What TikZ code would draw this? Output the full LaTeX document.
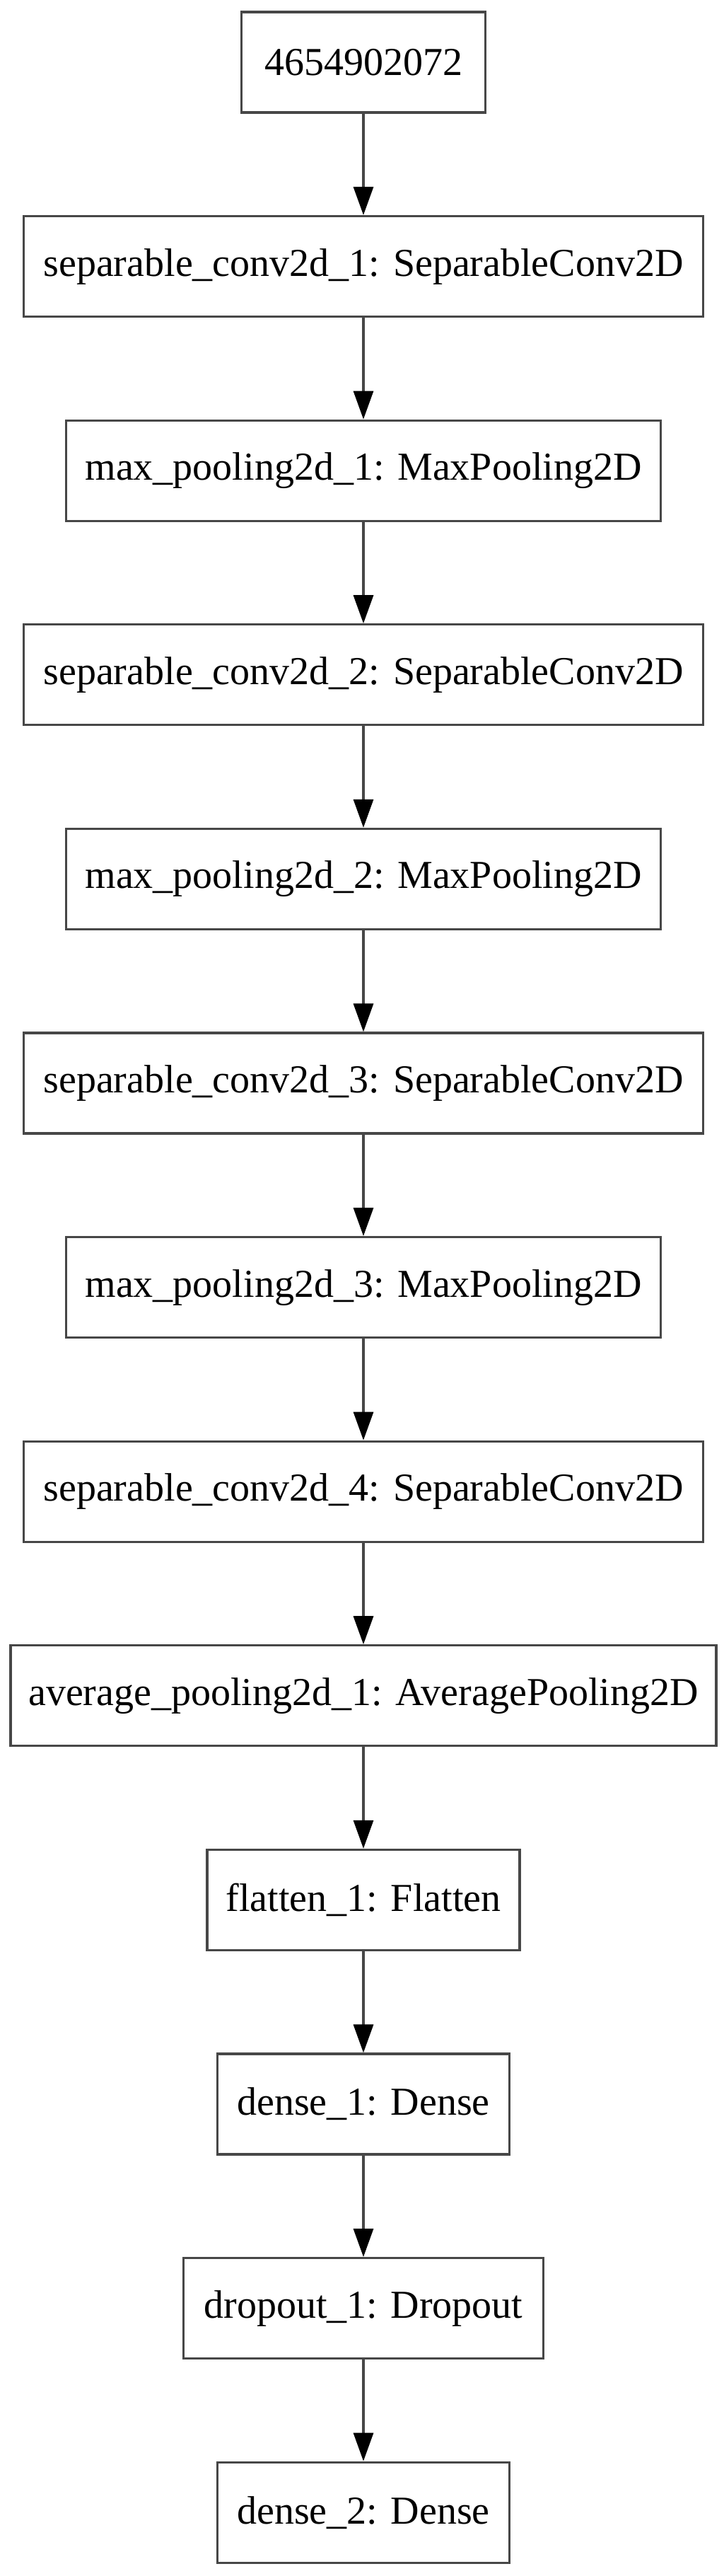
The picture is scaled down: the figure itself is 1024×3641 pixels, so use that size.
\documentclass[tikz,border=0pt]{standalone}
\usepackage{fontspec}
\setmainfont{Liberation Serif}
\usetikzlibrary{arrows.meta}
\begin{document}
\begin{tikzpicture}[x=0.25pt,y=-0.25pt,
  layer/.style={draw=black!72,line width=0.8pt,fill=white,inner sep=0pt,
    minimum height=35.5pt,font=\fontsize{14pt}{16pt}\selectfont,text=black},
  flow/.style={draw=black!72,line width=0.8pt,
    -{Triangle[length=10pt,width=7pt,color=black,fill=black]}}]
\useasboundingbox[fill=white] (0,0) rectangle (1024,3641);
\node[layer,minimum width=86.25pt]  (n0)  at (514,88)     {4654902072};
\node[layer,minimum width=240.25pt] (n1)  at (514,376.6)  {separable\_conv2d\_1: SeparableConv2D};
\node[layer,minimum width=210.25pt] (n2)  at (514,665.2)  {max\_pooling2d\_1: MaxPooling2D};
\node[layer,minimum width=240.25pt] (n3)  at (514,953.8)  {separable\_conv2d\_2: SeparableConv2D};
\node[layer,minimum width=210.25pt] (n4)  at (514,1242.4) {max\_pooling2d\_2: MaxPooling2D};
\node[layer,minimum width=240.25pt] (n5)  at (514,1531)   {separable\_conv2d\_3: SeparableConv2D};
\node[layer,minimum width=210.25pt] (n6)  at (514,1819.6) {max\_pooling2d\_3: MaxPooling2D};
\node[layer,minimum width=240.25pt] (n7)  at (514,2108.2) {separable\_conv2d\_4: SeparableConv2D};
\node[layer,minimum width=249.5pt]  (n8)  at (514,2396.8) {average\_pooling2d\_1: AveragePooling2D};
\node[layer,minimum width=110.5pt]  (n9)  at (514,2685.4) {flatten\_1: Flatten};
\node[layer,minimum width=103.25pt] (n10) at (514,2974)   {dense\_1: Dense};
\node[layer,minimum width=127.25pt] (n11) at (514,3262.6) {dropout\_1: Dropout};
\node[layer,minimum width=103.25pt] (n12) at (514,3551.2) {dense\_2: Dense};
\foreach \a/\b in {n0/n1,n1/n2,n2/n3,n3/n4,n4/n5,n5/n6,n6/n7,n7/n8,n8/n9,n9/n10,n10/n11,n11/n12}
  \draw[flow] (\a) -- (\b);
\end{tikzpicture}
\end{document}
